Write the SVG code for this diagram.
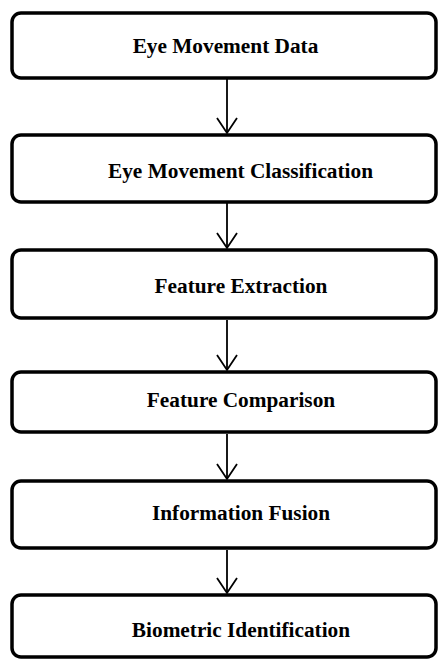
<svg xmlns="http://www.w3.org/2000/svg" width="438" height="660" viewBox="0 0 438 660">
<style>
.box{fill:#fff;stroke:#000;stroke-width:3.5}
.lbl{font-family:"Liberation Serif","Times New Roman",serif;font-weight:bold;font-size:21.3px;fill:#000;text-anchor:middle}
.conn{stroke:#000;stroke-width:1.8;fill:none}
</style>
<defs>
<marker id="arr" markerWidth="18" markerHeight="22" refX="16" refY="11" orient="auto" markerUnits="userSpaceOnUse" viewBox="0 0 18 22">
<path d="M1,1 L16,11 L1,21" fill="none" stroke="#000" stroke-width="1.8"/>
</marker>
</defs>
<rect width="438" height="660" fill="#fff"/>
<g id="connectors">
<line class="conn" x1="227" y1="79" x2="227" y2="133" marker-end="url(#arr)"/>
<line class="conn" x1="227" y1="203" x2="227" y2="248" marker-end="url(#arr)"/>
<line class="conn" x1="227" y1="320" x2="227" y2="370" marker-end="url(#arr)"/>
<line class="conn" x1="227" y1="434" x2="227" y2="479" marker-end="url(#arr)"/>
<line class="conn" x1="227" y1="550" x2="227" y2="593" marker-end="url(#arr)"/>
</g>
<g id="n1"><rect class="box" x="12" y="13" width="424" height="65" rx="9"/><text class="lbl" x="225.5" y="53">Eye Movement Data</text></g>
<g id="n2"><rect class="box" x="12" y="135" width="424" height="67" rx="9"/><text class="lbl" x="240.5" y="178">Eye Movement Classification</text></g>
<g id="n3"><rect class="box" x="12" y="250" width="424" height="68" rx="9"/><text class="lbl" x="241" y="293">Feature Extraction</text></g>
<g id="n4"><rect class="box" x="12" y="372" width="424" height="60" rx="9"/><text class="lbl" x="241" y="407">Feature Comparison</text></g>
<g id="n5"><rect class="box" x="12" y="481" width="424" height="67" rx="9"/><text class="lbl" x="241" y="520">Information Fusion</text></g>
<g id="n6"><rect class="box" x="12" y="595" width="424" height="62" rx="9"/><text class="lbl" x="241" y="637">Biometric Identification</text></g>
</svg>
